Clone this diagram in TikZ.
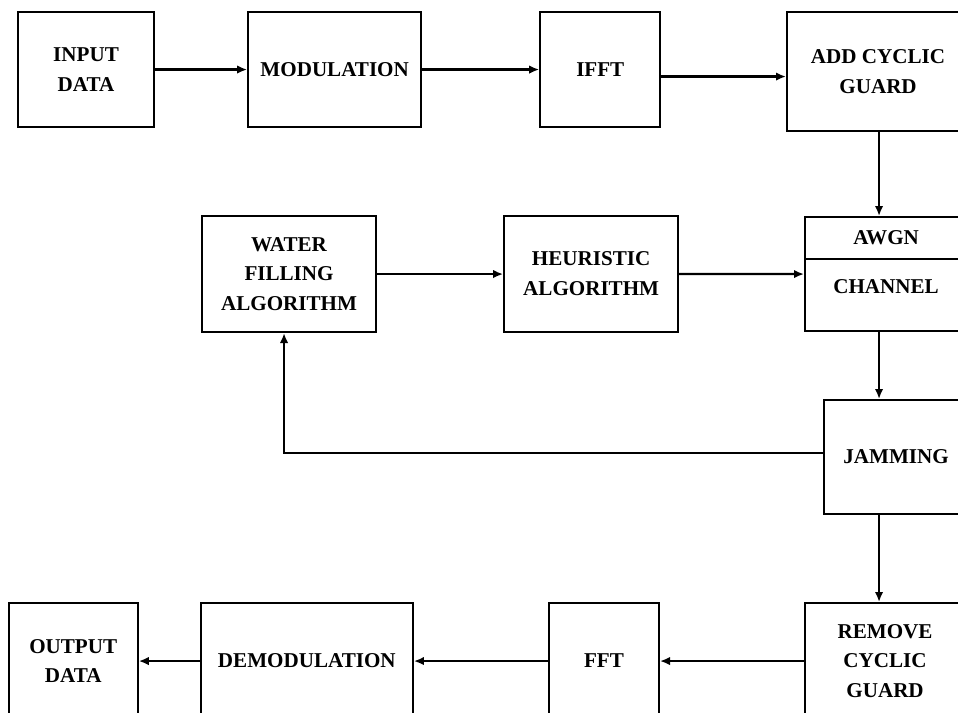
\documentclass[tikz,border=0pt]{standalone}
\usepackage{fontspec}
\setmainfont{Liberation Serif}
\usepackage{tikz}
\usetikzlibrary{positioning,arrows.meta,calc}

\begin{document}
\begin{tikzpicture}[
    box/.style={draw=black, line width=1.2pt, align=center, font=\bfseries\fontsize{12}{17}\selectfont,
        minimum height=2.3cm, inner sep=0pt},
    lbl/.style={align=center, font=\bfseries\fontsize{12}{17}\selectfont, inner sep=0pt},
    arrow/.style={-{Latex[length=2mm,width=1.7mm]}, line width=1.25pt, draw=black}
]
\useasboundingbox (0,0) rectangle (19.16,-14.26);
\clip (0,0) rectangle (19.16,-14.26);
\node[box, minimum width=2.72cm, anchor=north west] (input) at (0.34,-0.22) {INPUT\\DATA};
\node[box, minimum width=3.46cm, right=1.84cm of input] (modul) {MODULATION};
\node[box, minimum width=2.4cm, right=2.34cm of modul] (ifft) {IFFT};
\node[box, minimum width=3.64cm, minimum height=2.38cm, anchor=north west] (addcyc) at (15.72,-0.22) {ADD CYCLIC\\GUARD};
\node[box, minimum width=3.48cm, minimum height=2.32cm, anchor=north west] (water) at (4.02,-4.3) {WATER\\FILLING\\ALGORITHM};
\node[box, minimum width=3.48cm, minimum height=2.32cm, right=2.52cm of water] (heur) {HEURISTIC\\ALGORITHM};
\node[box, minimum width=3.24cm, minimum height=2.28cm, anchor=north west] (awgn) at (16.08,-4.32) {};
\draw[line width=1.2pt] ([yshift=-0.86cm]awgn.north west) -- ([yshift=-0.86cm]awgn.north east);
\node[lbl] (awgntop) at ([yshift=-0.43cm]awgn.north) {AWGN};
\node[lbl] (awgnbot) at ([yshift=-1.42cm]awgn.north) {CHANNEL};
\node[box, minimum width=2.88cm, minimum height=2.28cm, anchor=north west] (jam) at (16.46,-7.98) {JAMMING};
\node[box, minimum width=3.2cm, minimum height=2.32cm, anchor=north west] (remove) at (16.08,-12.04) {REMOVE\\CYCLIC\\GUARD};
\node[box, minimum width=2.2cm, minimum height=2.32cm, left=2.88cm of remove] (fft) {FFT};
\node[box, minimum width=4.24cm, minimum height=2.32cm, left=2.68cm of fft] (demod) {DEMODULATION};
\node[box, minimum width=2.58cm, minimum height=2.32cm, left=1.22cm of demod] (output) {OUTPUT\\DATA};
\draw[arrow] (input) -- (modul);
\draw[arrow] (modul) -- (ifft);
\draw[arrow] ([yshift=-0.14cm]ifft.east) -- ([yshift=-0.14cm]ifft.east -| addcyc.west);
\draw[arrow] ([xshift=0.02cm]addcyc.south) -- ([xshift=0.02cm]addcyc.south |- awgn.north);
\draw[arrow] (water) -- (heur);
\draw[arrow] (heur) -- (awgn);
\draw[arrow] ([xshift=0.02cm]addcyc.south |- awgn.south) -- ([xshift=0.02cm]addcyc.south |- jam.north);
\draw[arrow] ([yshift=0.08cm]jam.west) -| ([xshift=-0.1cm]water.south);
\draw[arrow] ([xshift=0.02cm]addcyc.south |- jam.south) -- ([xshift=0.02cm]addcyc.south |- remove.north);
\draw[arrow] (remove) -- (fft);
\draw[arrow] (fft) -- (demod);
\draw[arrow] (demod) -- (output);
\end{tikzpicture}
\end{document}
